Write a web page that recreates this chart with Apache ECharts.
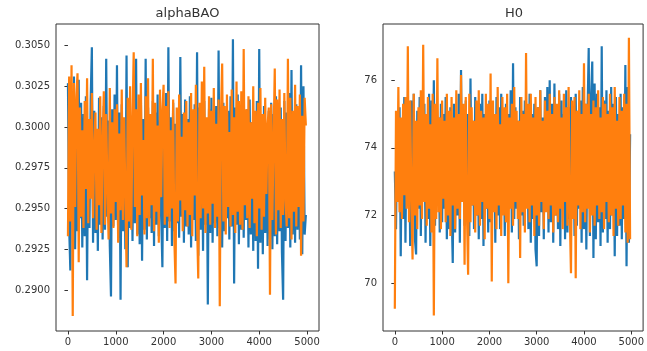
<!DOCTYPE html>
<html><head><meta charset="utf-8">
<script src="https://cdn.jsdelivr.net/npm/echarts@6/dist/echarts.min.js"></script>
<style>html,body{margin:0;padding:0;background:#fff}#c{width:647px;height:351px}</style>
</head><body><div id="c"></div>
<script>
// sample spacing of the thinned chains (iteration index = i * step)
const step = 25;
const titles = ["alphaBAO", "H0"];
const xTicks = [0, 1000, 2000, 3000, 4000, 5000];
const alphaTicks = [0.2900, 0.2925, 0.2950, 0.2975, 0.3000, 0.3025, 0.3050];
const h0Ticks = [70, 72, 74, 76];

const alphaBlue = [
0.3027,0.2939,0.2912,0.3022,0.2948,0.3031,0.2925,0.3012,0.2936,0.3029,
0.2944,0.3015,0.2926,0.3008,0.2933,0.3019,0.2906,0.3002,0.2938,0.3016,
0.3049,0.2929,0.3010,0.2935,0.2997,0.2924,0.3018,0.2940,0.3006,0.2931,
0.3013,0.2937,0.3042,0.2945,0.3004,0.2927,0.2896,0.3011,0.2939,0.3020,
0.2943,0.3038,0.2932,0.3009,0.2894,0.3014,0.2936,0.3003,0.2925,0.3044,
0.2914,0.3017,0.2938,0.3007,0.2930,0.3015,0.2941,0.3042,0.2934,0.3010,
0.2928,0.3018,0.2918,0.3005,0.2937,0.3042,0.2931,0.3012,0.2944,0.3002,
0.2935,0.3016,0.2927,0.3009,0.2940,0.3020,0.2933,0.3004,0.2946,0.2914,
0.3013,0.2938,0.3021,0.2930,0.3049,0.2942,0.3006,0.2927,0.3015,0.2936,
0.3002,0.2941,0.3011,0.2932,0.3043,0.2945,0.3008,0.2929,0.3017,0.2939,
0.3005,0.2934,0.3019,0.2926,0.3010,0.2943,0.3014,0.2930,0.3046,0.2921,
0.3012,0.2937,0.3007,0.2924,0.3016,0.2940,0.3003,0.2891,0.3011,0.2935,
0.3018,0.2929,0.3006,0.2941,0.3013,0.2933,0.3047,0.2938,0.3009,0.2926,
0.3015,0.2936,0.3002,0.2944,0.3010,0.2931,0.3019,0.2939,0.3054,0.2904,
0.3012,0.2940,0.3020,0.2928,0.3007,0.2937,0.3014,0.2932,0.3005,0.2943,
0.3011,0.2926,0.3017,0.2934,0.3003,0.2924,0.3009,0.2930,0.3016,0.2913,
0.3048,0.2929,0.3006,0.2922,0.3013,0.2935,0.3002,0.2927,0.3010,0.2931,
0.3015,0.2925,0.3008,0.2933,0.3019,0.2928,0.3004,0.2936,0.3012,0.2923,
0.2894,0.3016,0.2930,0.3009,0.2938,0.3021,0.2926,0.3035,0.2934,0.3006,
0.2929,0.3014,0.2937,0.3002,0.2931,0.3038,0.2922,0.3025,0.2934,0.2946
];
const alphaOrange = [
0.2933,0.3031,0.2942,0.3038,0.2884,0.3027,0.2951,0.3018,0.3033,0.2917,
0.3012,0.2945,0.2998,0.2938,0.3016,0.2962,0.3030,0.2941,0.3005,0.2956,
0.3021,0.2944,0.2987,0.3009,0.2937,0.2999,0.2952,0.3019,0.2935,0.2990,
0.3022,0.2940,0.3008,0.2963,0.2931,0.3024,0.2947,0.3003,0.2938,0.3011,
0.2954,0.3014,0.2929,0.2996,0.2949,0.3023,0.2943,0.3006,0.2960,0.2914,
0.3018,0.2942,0.3025,0.2937,0.3004,0.3046,0.2951,0.3011,0.2933,0.3020,
0.2946,0.3027,0.2958,0.2992,0.2934,0.3019,0.2944,0.3030,0.2939,0.3008,
0.2952,0.3042,0.2936,0.3015,0.2948,0.3001,0.2929,0.3023,0.2957,0.3010,
0.3026,0.2940,0.3013,0.2945,0.3022,0.2938,0.2998,0.2950,0.3017,0.2931,
0.2904,0.3012,0.2942,0.3020,0.2955,0.2994,0.2936,0.3009,0.2949,0.3016,
0.2939,0.3003,0.2946,0.3021,0.2933,0.3011,0.2958,0.3026,0.2941,0.2907,
0.3015,0.2944,0.3028,0.2950,0.3037,0.2935,0.3006,0.2947,0.3019,0.2940,
0.3010,0.2953,0.3024,0.2938,0.3002,0.2945,0.3017,0.2890,0.3008,0.3039,
0.2942,0.3013,0.2934,0.3020,0.2951,0.2997,0.2939,0.3023,0.2946,0.3006,
0.2935,0.3028,0.2948,0.3016,0.2940,0.3022,0.2937,0.3048,0.2952,0.3011,
0.2944,0.3019,0.2938,0.3003,0.2956,0.3025,0.2941,0.3010,0.2933,0.3015,
0.2950,0.3024,0.2937,0.3008,0.2945,0.3018,0.2959,0.3001,0.3012,0.2897,
0.3014,0.2943,0.2993,0.3036,0.2934,0.3017,0.2949,0.3023,0.2938,0.3005,
0.2946,0.3021,0.2955,0.2939,0.3042,0.2944,0.3018,0.2931,0.3010,0.2948,
0.3026,0.2939,0.3013,0.2951,0.3020,0.2921,0.3007,0.2942,0.3018,0.3001
];
const h0Blue = [
73.3,71.6,74.9,72.4,75.2,70.8,74.6,71.9,75.5,71.2,
75.0,72.3,74.7,71.1,75.4,72.0,75.6,71.3,70.85,75.1,
72.2,75.5,71.4,74.8,72.6,75.3,71.2,75.0,71.9,75.6,
71.1,75.4,72.1,76.0,71.7,75.2,72.4,74.9,71.5,75.3,
71.8,75.0,72.2,75.5,71.3,74.7,71.6,75.2,72.3,70.6,
75.3,71.5,74.9,72.0,75.6,71.2,76.3,72.4,75.1,71.7,
75.4,72.1,75.0,71.4,76.05,72.3,74.8,71.6,75.5,72.0,
74.9,71.3,75.3,71.9,75.6,71.1,75.0,72.2,74.7,71.5,
75.4,71.8,75.1,72.4,74.8,71.2,75.5,72.0,75.2,71.6,
75.6,72.1,74.9,71.4,75.3,71.8,75.0,72.3,75.7,71.5,
76.5,71.9,75.2,72.2,74.8,71.3,75.5,72.0,75.1,71.7,
75.4,72.3,74.9,71.6,75.6,71.2,75.0,71.9,75.3,71.0,
70.5,75.2,71.4,75.7,72.1,74.9,71.3,75.5,72.2,75.8,
71.5,76.0,71.8,75.3,71.2,75.9,72.0,75.1,71.6,75.6,
71.1,75.4,72.3,75.0,71.3,75.7,71.5,75.2,71.9,75.5,
72.1,74.8,71.4,75.6,71.7,75.1,72.2,75.4,71.2,75.8,
71.6,75.3,71.0,75.0,76.95,71.4,75.5,76.55,70.75,75.9,
71.3,75.6,71.8,75.2,71.1,77.0,71.5,75.4,71.9,75.7,
71.2,75.1,71.6,75.8,72.0,75.3,70.8,75.5,71.4,75.0,
71.7,75.6,71.3,75.2,71.9,76.45,70.5,75.8,71.2,74.4
];
const h0Orange = [
69.25,75.1,72.4,75.8,72.1,74.9,71.9,75.3,72.6,75.5,
72.2,77.0,71.8,75.4,72.5,70.7,75.6,72.0,74.8,71.6,
75.2,72.3,75.7,71.9,77.05,72.4,75.0,71.7,75.5,72.2,
74.7,71.5,75.6,69.05,75.3,71.9,76.65,72.1,74.9,71.6,
75.4,72.5,74.8,71.8,75.6,72.0,75.1,71.4,75.5,72.3,
74.9,71.6,75.7,72.2,75.0,71.9,76.15,72.4,75.3,70.55,
75.5,72.1,70.25,75.6,71.8,75.2,72.3,74.8,71.5,75.4,
72.0,75.7,71.7,75.1,72.4,74.9,71.3,75.6,72.2,75.3,
71.9,76.2,70.05,75.4,72.1,75.0,71.6,75.8,72.3,74.7,
71.4,75.5,72.0,75.2,71.8,75.6,70.0,74.9,72.2,75.3,
71.7,75.8,72.4,75.1,71.9,74.8,70.75,75.5,72.1,75.0,
71.5,76.8,72.2,75.3,71.8,75.6,72.3,74.9,71.4,75.5,
72.0,75.2,71.7,75.7,72.4,74.8,71.6,75.4,72.1,75.1,
71.9,75.6,72.3,75.0,71.5,75.5,72.0,75.3,71.8,75.7,
72.2,74.9,71.6,75.6,72.4,75.2,71.7,75.8,72.0,70.3,
75.4,71.9,75.5,70.15,75.1,72.3,75.7,71.6,75.0,72.1,
76.5,71.8,75.3,72.2,75.6,71.5,75.0,72.0,75.4,71.7,
75.2,72.3,75.7,71.9,74.9,72.1,75.5,71.6,75.3,72.4,
75.0,71.8,75.6,72.0,75.2,71.4,75.8,72.2,74.8,71.7,
75.5,71.9,75.1,72.3,75.6,71.5,75.3,71.2,77.25,71.3
];

const toPairs = arr => arr.map((v, i) => [i * step, v]);
const FONT = 'DejaVu Sans';
const TXT = '#333';

function xAxis(gi) {
  return {
    type: 'value', gridIndex: gi, min: -250, max: 5250,
    axisLine: { show: false },
    splitLine: { show: false },
    axisTick: { show: true, length: 3.5, customValues: xTicks, lineStyle: { color: TXT, width: 1 } },
    axisLabel: { customValues: xTicks, margin: 6, color: TXT, fontSize: 10, fontFamily: FONT, formatter: v => String(v) }
  };
}
function yAxis(gi, mn, mx, ticks, fmt) {
  return {
    type: 'value', gridIndex: gi, min: mn, max: mx,
    axisLine: { show: false },
    splitLine: { show: false },
    axisTick: { show: true, length: 3.5, customValues: ticks, lineStyle: { color: TXT, width: 1 } },
    axisLabel: { customValues: ticks, margin: 6, color: TXT, fontSize: 10, fontFamily: FONT, formatter: fmt }
  };
}
function line(data, gi, color) {
  return {
    type: 'line', xAxisIndex: gi, yAxisIndex: gi, data: toPairs(data),
    showSymbol: false, symbol: 'none', sampling: null, animation: false,
    lineStyle: { color: color, width: 2.2, join: 'miter', miterLimit: 2 }, emphasis: { disabled: true }
  };
}

const chart = echarts.init(document.getElementById('c'), null, { renderer: 'canvas' });
chart.setOption({
  animation: false,
  backgroundColor: '#fff',
  grid: [
    { left: 56, top: 24, width: 263, height: 307, show: true, borderColor: TXT, borderWidth: 1, containLabel: false },
    { left: 383, top: 24, width: 262, height: 307, show: true, borderColor: TXT, borderWidth: 1, containLabel: false }
  ],
  xAxis: [xAxis(0), xAxis(1)],
  yAxis: [
    yAxis(0, 0.28748, 0.30633, alphaTicks, v => v.toFixed(4)),
    yAxis(1, 68.59, 77.66, h0Ticks, v => String(Math.round(v)))
  ],
  graphic: [
    { type: 'text', x: 187.5, y: 14, style: { text: titles[0], textAlign: 'center', textVerticalAlign: 'middle', font: '13px "DejaVu Sans"', fill: TXT } },
    { type: 'text', x: 514, y: 14, style: { text: titles[1], textAlign: 'center', textVerticalAlign: 'middle', font: '13px "DejaVu Sans"', fill: TXT } }
  ],
  series: [
    line(alphaBlue, 0, '#1f77b4'),
    line(alphaOrange, 0, '#ff7f0e'),
    line(h0Blue, 1, '#1f77b4'),
    line(h0Orange, 1, '#ff7f0e')
  ]
});
</script></body></html>
